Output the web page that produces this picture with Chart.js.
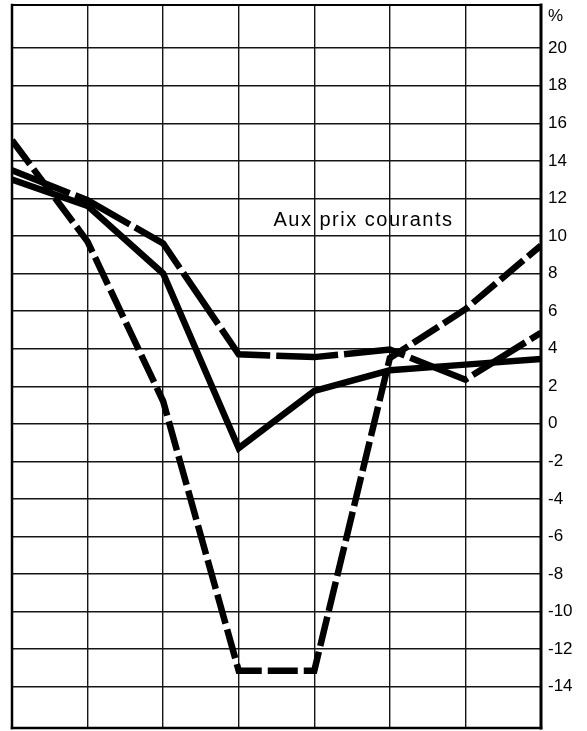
<!DOCTYPE html>
<html>
<head>
<meta charset="utf-8">
<script src="https://cdn.jsdelivr.net/npm/chart.js@4.4.0/dist/chart.umd.min.js"></script>
<style>
  html, body { margin: 0; padding: 0; background: #fff; }
  #wrap { width: 587px; height: 731px; }
</style>
</head>
<body>
<div id="wrap"><canvas id="growthChart"></canvas></div>
<script>
// Periods along the horizontal axis (no labels drawn)
const periods = [0, 1, 2, 3, 4, 5, 6, 7];

// Growth rates, %
const solidSeries = [13.0, 11.6, 8.0, -1.3, 1.75, 2.85, 3.15, 3.45];
const longDashSeries = [13.5, 11.9, 9.6, 3.7, 3.55, 3.95, 2.35, 4.85];
const shortDashSeries = [15.1, 9.7, 1.2, -13.15, -13.15, 3.5, 6.1, 9.5];

// Right-hand axis ticks
const yTickValues = [20, 18, 16, 14, 12, 10, 8, 6, 4, 2, 0, -2, -4, -6, -8, -10, -12, -14];
const unitLabel = '%';
const noteText = 'Aux prix courants';

const INK = '#000';
const GRID = '#151515';
const UNIT_POS = 21.7;

// Heavy frame round the plot area
const framePlugin = {
  id: 'frame',
  beforeDatasetsDraw(chart) {
    const { ctx, chartArea: a } = chart;
    ctx.save();
    ctx.strokeStyle = INK;
    ctx.lineCap = 'square';
    const line = (x1, y1, x2, y2, w) => {
      ctx.lineWidth = w;
      ctx.beginPath();
      ctx.moveTo(x1, y1);
      ctx.lineTo(x2, y2);
      ctx.stroke();
    };
    line(a.left, a.top, a.right, a.top, 2);
    line(a.left, a.top, a.left, a.bottom, 2.5);
    line(a.left, a.bottom, a.right, a.bottom, 2.5);
    line(a.right, a.top, a.right, a.bottom, 3);
    ctx.restore();
  }
};

// Caption inside the grid
const notePlugin = {
  id: 'note',
  afterDatasetsDraw(chart) {
    const { ctx, scales } = chart;
    ctx.save();
    ctx.font = '20px "Liberation Sans", Arial, sans-serif';
    ctx.fillStyle = INK;
    ctx.textAlign = 'left';
    ctx.textBaseline = 'alphabetic';
    if ('letterSpacing' in ctx) ctx.letterSpacing = '1.5px';
    ctx.fillText(noteText, scales.x.getPixelForValue(3.46), scales.y.getPixelForValue(10.55));
    ctx.restore();
  }
};

const lineStyle = {
  borderColor: INK,
  borderWidth: 6.5,
  borderCapStyle: 'butt',
  borderJoinStyle: 'miter',
  pointRadius: 0,
  fill: false,
  tension: 0
};

new Chart(document.getElementById('growthChart'), {
  type: 'line',
  data: {
    labels: periods,
    datasets: [
      { ...lineStyle, data: shortDashSeries, borderDash: [30, 6] },
      { ...lineStyle, data: longDashSeries, borderDash: [62, 6] },
      { ...lineStyle, data: solidSeries }
    ]
  },
  options: {
    responsive: true,
    maintainAspectRatio: false,
    animation: false,
    layout: { padding: { left: 12, top: 5, right: 0, bottom: 3 } },
    plugins: {
      legend: { display: false },
      tooltip: { enabled: false }
    },
    scales: {
      x: {
        type: 'linear',
        min: 0,
        max: 7,
        ticks: { display: false, stepSize: 1 },
        grid: { drawTicks: false, lineWidth: 1.4, color: GRID },
        border: { display: false },
        afterFit(scale) {
          scale.height = 0;
          scale.paddingLeft = 0;
          scale.paddingRight = 0;
        }
      },
      y: {
        position: 'right',
        min: -16.2,
        max: 22.3,
        afterBuildTicks(scale) {
          scale.ticks = yTickValues.map(v => ({ value: v })).concat({ value: UNIT_POS });
        },
        afterFit(scale) {
          scale.width = 46;
          scale.paddingTop = 0;
          scale.paddingBottom = 0;
        },
        ticks: {
          padding: 7,
          color: INK,
          font: { family: '"Liberation Sans", Arial, sans-serif', size: 17 },
          callback: v => (v > 20 ? unitLabel : String(v))
        },
        grid: {
          drawTicks: false,
          lineWidth: 1.4,
          color: c => (c.tick && c.tick.value > 20 ? 'rgba(0,0,0,0)' : GRID)
        },
        border: { display: false }
      }
    }
  },
  plugins: [framePlugin, notePlugin]
});
</script>
</body>
</html>
